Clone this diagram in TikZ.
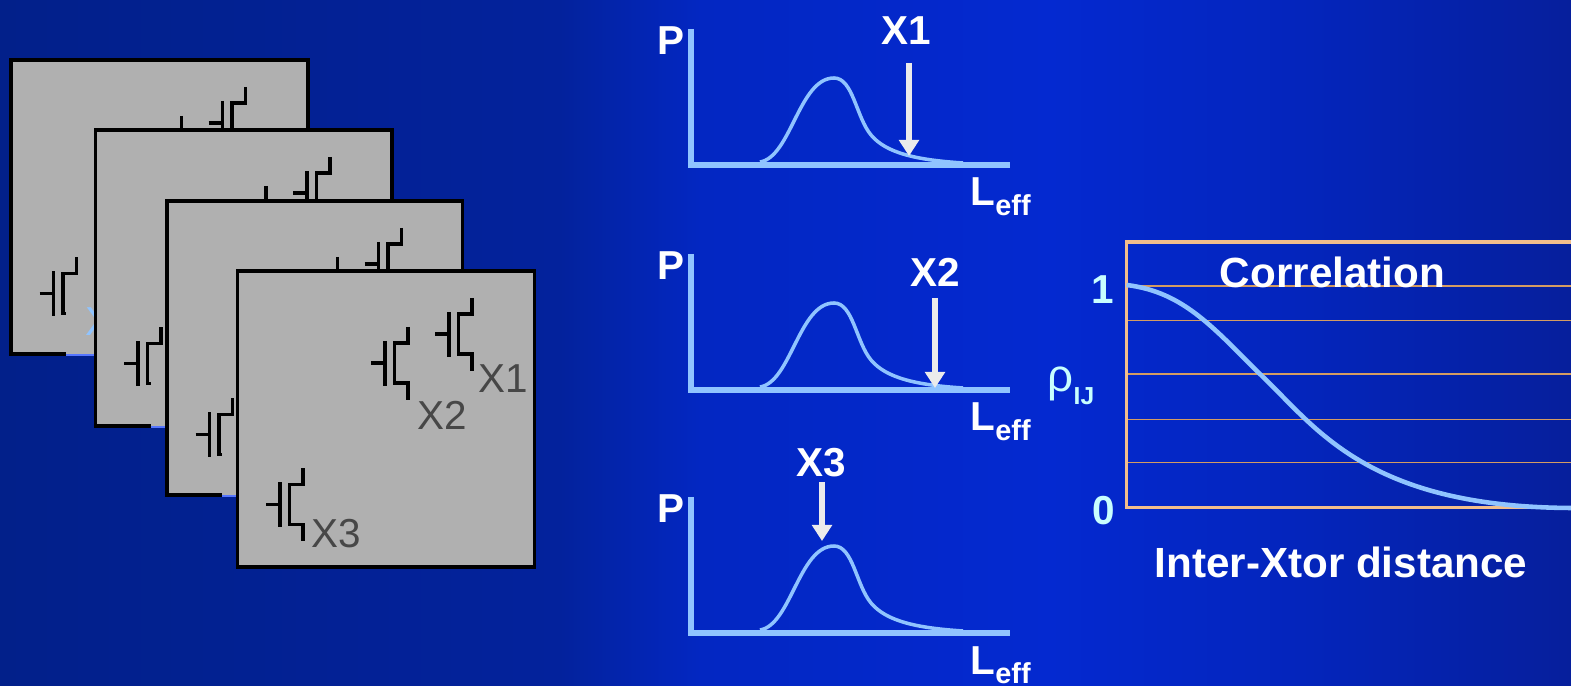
\documentclass[tikz,border=0pt]{standalone}
\usepackage{xcolor}
\usepackage{fontspec}
\setmainfont{Liberation Sans}
\usetikzlibrary{arrows.meta}
\definecolor{chipgrey}{HTML}{B0B0B0}
\definecolor{plotblue}{HTML}{90C4FF}
\definecolor{boxorange}{HTML}{F2BE8C}
\definecolor{gridorange}{HTML}{D49C62}
\definecolor{palecyan}{HTML}{C8FFFF}
\definecolor{bgA}{HTML}{02208A}
\definecolor{bgB}{HTML}{03229C}
\definecolor{bgC}{HTML}{0327C2}
\definecolor{bgD}{HTML}{0429D0}
\definecolor{bgE}{HTML}{0425BC}
\definecolor{bgF}{HTML}{061F9C}
\pgfdeclarehorizontalshading{bgshade}{100bp}{
	color(0bp)=(bgA); color(25bp)=(bgA); color(42.8bp)=(bgB); color(47.3bp)=(bgC);
	color(58.4bp)=(bgD); color(66.4bp)=(bgE); color(75bp)=(bgF); color(100bp)=(bgF)}
\newcommand{\leff}{L\raisebox{-0.45ex}{\fontsize{8.2}{9}\selectfont eff}}
\tikzset{
	x=0.01cm,y=-0.01cm,
	chipline/.style={draw=black,line width=1.1pt},
	xtorline/.style={draw=black,line width=1pt},
	chiplabel/.style={inner sep=0pt,text=black!72,font=\fontsize{11.5}{13}\selectfont},
	plotlabel/.style={inner sep=0pt,text=white,font=\fontsize{11.5}{13}\bfseries\selectfont},
	sidelabel/.style={inner sep=0pt,text=palecyan,font=\fontsize{11.5}{13}\bfseries\selectfont},
	titlelabel/.style={inner sep=0pt,text=white,font=\fontsize{12}{14}\bfseries\selectfont},
	axisline/.style={draw=plotblue,line width=1.7pt},
	curveline/.style={draw=plotblue,line width=1pt},
	markarrow/.style={draw=black!8,line width=1.6pt,-{Triangle[width=5.6pt,length=4.6pt]}},
	gridline/.style={draw=gridorange,line width=0.5pt},
	pics/xtor/.style={code={
		\draw[xtorline] (-14,0) -- (-1,0);
		\draw[xtorline] (0,-22) -- (0,23);
		\draw[xtorline] (23,-36) -- (23,-20) -- (9.5,-20) -- (9.5,20) -- (23,20) -- (23,37);
	}},
	pics/chipbase/.style 2 args={code={
		\filldraw[chipline,fill=chipgrey] (0,0) rectangle (#1,#2);
		\pic at (211.5,63) {xtor};
		\pic at (147.5,92) {xtor};
		\pic at (42.5,233.5) {xtor};
	}},
	pics/chipcut/.style={code={
		\fill[chipgrey] (55,241) rectangle (294,#1+1.5);
		\draw[plotblue!60!blue,line width=0.4pt] (55,#1+1) -- (296,#1+1);
	}},
	pics/distplot/.style={code={
		\draw[axisline] (0,-136) -- (0,0) -- (319,0);
		\draw[curveline] (69,-3) .. controls (100,-8) and (108,-87) .. (143,-87) .. controls (162,-87) and (165,-48) .. (180,-30) .. controls (195,-12) and (225,-5) .. (272,-2);
		\node[plotlabel,anchor=base west] (-ylab) at (-34,-110) {P};
		\node[plotlabel,anchor=base west] (-xlab) at (279,41) {\leff};
	}},
}
\begin{document}
\begin{tikzpicture}
	\useasboundingbox (0,0) rectangle (1571,686);
	\shade[shading=bgshade] (0,0) rectangle (1571,686);
	% stacked dies
	\coordinate (C1) at (11,60);
	\coordinate (C2) at (95.5,130);
	\coordinate (C3) at (167,201);
	\coordinate (C4) at (237.5,271);
	\pic at (C1) {chipbase={297}{294}};
	\pic at (C1) {chipcut=294};
	\node[chiplabel,text=plotblue] (BX3) at (110,322) {X3};
	\pic at (C2) {chipbase={296.5}{296}};
	\pic at (C2) {chipcut=296};
	\pic at (C3) {chipbase={295.5}{294}};
	\pic at (C3) {chipcut=294};
	\pic at (C4) {chipbase={297}{296}};
	\node[chiplabel] (CX1) at (503.5,378.5) {X1};
	\node[chiplabel] (CX2) at (442,415) {X2};
	\node[chiplabel] (CX3) at (336.5,534) {X3};
	% distributions
	\pic (D1) at (691,165) {distplot};
	\pic (D2) at (691,390) {distplot};
	\pic (D3) at (691,633) {distplot};
	\coordinate (A1) at (909,63);
	\coordinate (B1) at (909,156);
	\coordinate (A2) at (935,298);
	\coordinate (B2) at (935,388);
	\coordinate (A3) at (822,482);
	\coordinate (B3) at (822,541);
	\draw[markarrow] (A1) -- (B1);
	\draw[markarrow] (A2) -- (B2);
	\draw[markarrow] (A3) -- (B3);
	\node[plotlabel] (X1) at (906,31) {X1};
	\node[plotlabel] (X2) at (935,272) {X2};
	\node[plotlabel] (X3) at (821,463) {X3};
	% correlation box
	\coordinate (T1) at (1126.5,242);
	\coordinate (T2) at (1575,242);
	\coordinate (T3) at (1126.5,507.5);
	\coordinate (T4) at (1575,507.5);
	\draw[gridline] (1126.5,286) -- (1575,286);
	\draw[gridline] (1126.5,320.5) -- (1575,320.5);
	\draw[gridline] (1126.5,374) -- (1575,374);
	\draw[gridline] (1126.5,419.5) -- (1575,419.5);
	\draw[gridline] (1126.5,462.5) -- (1575,462.5);
	\draw[draw=boxorange,line width=1.1pt] (T2) -- (T1) -- (T3) -- (T4);
	\draw[draw=plotblue,line width=1.3pt] (1126.5,285) .. controls (1185,292) and (1215,330) .. (1264,378) .. controls (1318,430) and (1370,508) .. (1575,508);
	\node[titlelabel] (corr) at (1332.5,272) {Correlation};
	\node[titlelabel] (dist) at (1341,562) {Inter-Xtor distance};
	\node[sidelabel] (one) at (1103,290) {1};
	\node[sidelabel] (zero) at (1104,511) {0};
	\node[inner sep=0pt,text=palecyan,anchor=base west,font=\fontsize{13}{15}\selectfont] (rho) at (1047,392) {ρ\raisebox{-0.5ex}{\fontsize{7}{8}\bfseries\selectfont IJ}};
\end{tikzpicture}
\end{document}
